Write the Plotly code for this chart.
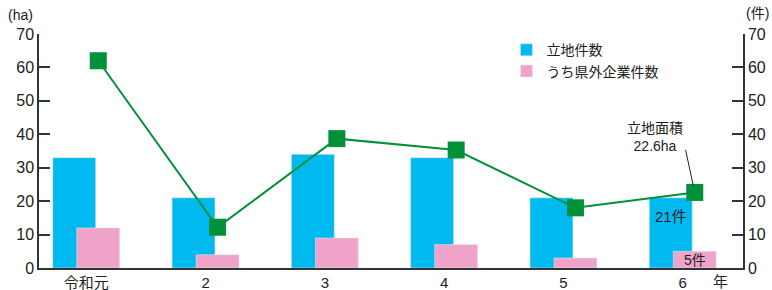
import plotly.graph_objects as go

categories = ["令和元", "2", "3", "4", "5", "6"]
sites = [33, 21, 34, 33, 21, 21]          # 立地件数 (件)
outside = [12, 4, 9, 7, 3, 5]             # うち県外企業件数 (件)
area = [62.0, 12.2, 38.7, 35.3, 18.0, 22.6]  # 立地面積 (ha)
y_ticks = [0, 10, 20, 30, 40, 50, 60, 70]

FONT = "Liberation Sans, Noto Sans CJK JP, sans-serif"
TXT = "#222222"
BLUE = "#00B9EF"
PINK = "#F0A3C8"
GREEN = "#00913A"

xs = list(range(len(categories)))
w = 0.36
shift = 0.1007

fig = go.Figure()
# bars on the base axis (right-hand 件 scale, same 0-70 range), line on the overlaying axis so it draws on top
fig.add_trace(go.Bar(x=xs, y=sites, name="立地件数", marker_color=BLUE,
                     width=w, offset=-shift - w / 2, yaxis="y"))
fig.add_trace(go.Bar(x=xs, y=outside, name="うち県外企業件数", marker_color=PINK,
                     width=w, offset=shift - w / 2, yaxis="y"))
fig.add_trace(go.Scatter(x=[x + shift for x in xs], y=area, mode="lines+markers",
                         line=dict(color=GREEN, width=2),
                         marker=dict(symbol="square", size=17, color=GREEN),
                         showlegend=False, yaxis="y2"))

axis_common = dict(range=[0, 70], tickvals=y_ticks, showgrid=False, zeroline=False,
                   showline=True, linecolor="#333333", linewidth=1.5,
                   ticks="inside", ticklen=11, tickcolor="#333333", tickwidth=1.5,
                   tickfont=dict(size=16), automargin=False)

fig.update_layout(
    width=772, height=290,
    margin=dict(l=39, r=29, t=34, b=22),
    plot_bgcolor="white", paper_bgcolor="white",
    barmode="overlay",
    font=dict(family=FONT, size=15, color=TXT),
    xaxis=dict(range=[-0.396, 5.505], tickvals=xs, ticktext=categories,
               showgrid=False, zeroline=False, showline=True,
               linecolor="#333333", linewidth=1.5, ticks="",
               tickfont=dict(size=15), automargin=False),
    yaxis=dict(side="right", **axis_common),
    yaxis2=dict(overlaying="y", side="left", **axis_common),
    legend=dict(x=0.664, y=0.999, xanchor="left", yanchor="top",
                bgcolor="rgba(0,0,0,0)", font=dict(size=14),
                tracegroupgap=0, itemwidth=30, traceorder="normal"),
    showlegend=True,
)

ann = [
    dict(text="(ha)", xref="paper", yref="paper", x=-0.0256, y=1.081,
         xanchor="center", yanchor="middle", showarrow=False, font=dict(size=14)),
    dict(text="(件)", xref="paper", yref="paper", x=1.0213, y=1.0897,
         xanchor="center", yanchor="middle", showarrow=False, font=dict(size=14)),
    dict(text="年", xref="paper", yref="paper", x=0.968, y=-0.058,
         xanchor="center", yanchor="middle", showarrow=False, font=dict(size=15)),
    # label for the latest area value
    dict(text="立地面積<br>22.6ha", x=5 + shift, y=area[5], xref="x", yref="y2",
         xshift=-40, yshift=55, showarrow=False,
         font=dict(size=14), align="center"),
    # leader line from label to the marker
    dict(text="", x=5 + shift, y=area[5], xref="x", yref="y2",
         ax=-9.5, ay=-44, axref="pixel", ayref="pixel", showarrow=True,
         arrowhead=0, arrowwidth=1, arrowcolor="#222222", standoff=7),
    dict(text="21件", x=5 - shift, y=sites[5], xref="x", yref="y",
         yanchor="top", yshift=-8, showarrow=False, font=dict(size=15)),
    dict(text="5件", x=5 + shift, y=outside[5], xref="x", yref="y",
         yanchor="top", yshift=1, showarrow=False, font=dict(size=14)),
]
fig.update_layout(annotations=ann)

fig.write_html("out.html", config={"displayModeBar": False},
               post_script="document.body.style.margin='0';")
